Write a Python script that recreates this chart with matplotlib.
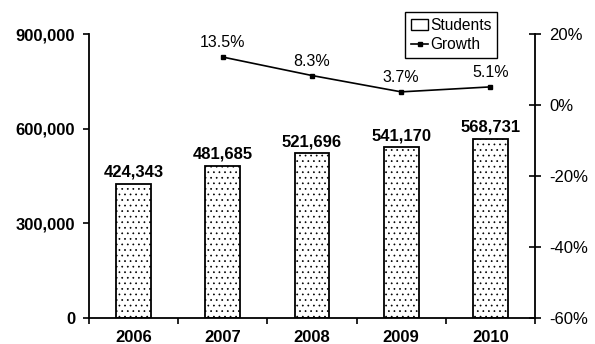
import matplotlib
matplotlib.use("Agg")
import matplotlib.pyplot as plt
from matplotlib.patches import Patch
from matplotlib.lines import Line2D
from matplotlib.ticker import FuncFormatter, FixedLocator
import numpy as np

plt.rcParams['font.family'] = ['Liberation Sans', 'DejaVu Sans']
plt.rcParams['hatch.linewidth'] = 0.5
plt.rcParams['hatch.color'] = '#333333'

years = ['2006', '2007', '2008', '2009', '2010']
students = [424343, 481685, 521696, 541170, 568731]
growth_years = ['2007', '2008', '2009', '2010']
growth = [13.5, 8.3, 3.7, 5.1]

fig = plt.figure(figsize=(5.95, 3.44), dpi=100)
ax = fig.add_axes([89/595, 1 - 318/344, (535 - 89)/595, (318 - 34)/344])

x = np.arange(len(years))
bars = ax.bar(x, students, width=0.39, facecolor='white', edgecolor='black',
              linewidth=1.3, hatch='...', zorder=2)
for xi, v in zip(x, students):
    ax.annotate(f"{v:,}", (xi, v), xytext=(0, 3), textcoords='offset points',
                ha='center', va='bottom', fontsize=12, fontweight='bold')

ax.set_xlim(-0.5, len(years) - 0.5)
ax.set_ylim(0, 900000)
ax.set_yticks([0, 300000, 600000, 900000])
ax.yaxis.set_major_formatter(FuncFormatter(lambda v, p: f"{int(v):,}"))
ax.tick_params(axis='y', direction='out', length=4, width=1.2, pad=6,
               labelsize=12)
for lbl in ax.get_yticklabels():
    lbl.set_fontweight('bold')

# year labels at the bar centres, tick marks between the categories
ax.set_xticks(x)
ax.set_xticklabels(years, fontsize=12, fontweight='bold')
ax.tick_params(axis='x', which='major', length=0, pad=9)
ax.xaxis.set_minor_locator(FixedLocator(np.arange(-0.5, len(years), 1.0)))
ax.tick_params(axis='x', which='minor', direction='out', length=4, width=1.2)

ax.spines['top'].set_visible(False)
ax.spines['right'].set_visible(False)
ax.spines['left'].set_linewidth(1.3)
ax.spines['bottom'].set_linewidth(1.3)

ax2 = ax.twinx()
gx = [years.index(y) for y in growth_years]
ax2.plot(gx, growth, color='black', linewidth=1.2, marker='s', markersize=3,
         zorder=3)
for xi, g in zip(gx, growth):
    ax2.annotate(f"{g}%", (xi, g), xytext=(0, 5), textcoords='offset points',
                 ha='center', va='bottom', fontsize=11.5)
ax2.set_ylim(-60, 20)
ax2.set_yticks([-60, -40, -20, 0, 20])
ax2.yaxis.set_major_formatter(FuncFormatter(lambda v, p: f"{int(v)}%"))
ax2.tick_params(axis='y', direction='inout', length=9, width=1.2, pad=6,
                labelsize=12)
for s in ['top', 'left', 'bottom']:
    ax2.spines[s].set_visible(False)
ax2.spines['right'].set_linewidth(1.3)

handles = [Patch(facecolor='white', edgecolor='black', linewidth=1.0),
           Line2D([], [], color='black', linewidth=1.2, marker='s', markersize=2.5)]
fig.legend(handles, ['Students', 'Growth'], loc='upper left',
           bbox_to_anchor=(405/595, 1 - 12/344), fontsize=11.2,
           frameon=True, fancybox=False, edgecolor='black', framealpha=1,
           handlelength=1.1, handletextpad=0.1, borderpad=0.4,
           labelspacing=0.25, borderaxespad=0)

fig.savefig('out.png', dpi=100)
